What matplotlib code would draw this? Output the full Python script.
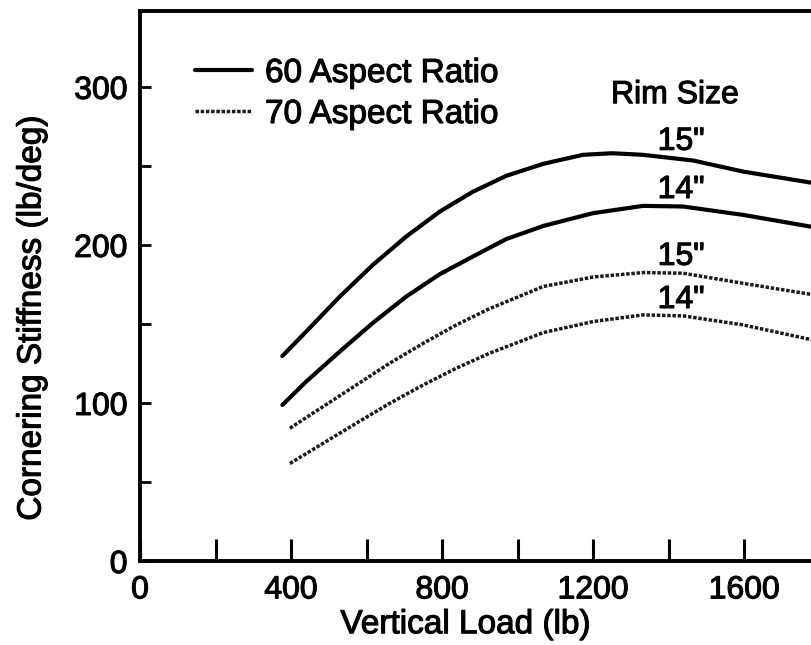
# -*- coding: UTF-8 -*-

# cornering stiffness vs vertical load, 60 and 70 aspect ratio tyres
import matplotlib
matplotlib.use('Agg')
from matplotlib import pyplot as plt
from matplotlib.ticker import MultipleLocator
import matplotlib.patheffects as pe

plt.rcParams['font.family'] = ['Liberation Sans', 'DejaVu Sans']

# data (lb, lb/deg)
load_60_15 = [377, 440, 529, 617, 705, 794, 882, 970, 1068, 1173, 1250, 1332, 1465, 1597, 1785]
cs_60_15 = [130, 145.4, 167.6, 187.7, 205.6, 221.4, 234, 244, 251.6, 257.3, 258.3, 257.3, 253.7, 246.7, 239.4]

load_60_14 = [377, 440, 529, 617, 705, 794, 882, 970, 1068, 1200, 1332, 1438, 1597, 1785]
cs_60_14 = [99, 113.8, 132.8, 151, 167.6, 181.8, 193, 204, 212.3, 220.4, 225, 224.6, 219.3, 211.5]

load_70 = [397, 485, 573, 661, 750, 838, 926, 1068, 1200, 1332, 1438, 1597, 1785]
cs_70_15 = [84.3, 98, 111.7, 125.4, 138, 149.7, 160, 174, 180, 182.8, 182.4, 176, 168.7]
cs_70_14 = [62, 74.8, 87.5, 100, 111.7, 122.3, 131.8, 144.8, 151.8, 156, 155.4, 149.7, 140]

legend_labels = ['60 Aspect Ratio', '70 Aspect Ratio']
rim_labels = ['15"', '14"', '15"', '14"']
rim_label_x = 1433
rim_label_y = [260.5, 230, 187.7, 160.4]

# a thin stroke makes the text look like the heavy scanned print
ink = [pe.withStroke(linewidth=0.8, foreground='black')]

fig = plt.figure(figsize=(8.11, 6.45), dpi=100)
ax = fig.add_axes([0.1726, 0.1295, 0.8274, 0.8527])

dots = (0, (1.0, 0.5))
solid, = ax.plot(load_60_15, cs_60_15, color='black', lw=3.0, solid_capstyle='round')
ax.plot(load_60_14, cs_60_14, color='black', lw=3.0, solid_capstyle='round')
dotted, = ax.plot(load_70, cs_70_15, color='#1a1a1a', lw=2.5, linestyle=dots)
ax.plot(load_70, cs_70_14, color='#1a1a1a', lw=2.5, linestyle=dots)

ax.set_xlim(0, 1777)
ax.set_ylim(0, 348)

# axes frame, right side is cut off in the picture
ax.spines['right'].set_visible(False)
for s in ['left', 'top', 'bottom']:
    ax.spines[s].set_linewidth(2.8)

ax.xaxis.set_major_locator(MultipleLocator(400))
ax.xaxis.set_minor_locator(MultipleLocator(200))
ax.yaxis.set_major_locator(MultipleLocator(100))
ax.yaxis.set_minor_locator(MultipleLocator(50))
ax.tick_params(axis='x', which='both', direction='in', length=16, width=2.2,
               labelsize=23, pad=10, top=False)
ax.tick_params(axis='y', which='both', direction='in', length=8, width=2.0,
               labelsize=23, pad=9, right=False)
for t in ax.get_xticklabels() + ax.get_yticklabels():
    t.set_path_effects(ink)

ax.set_xlabel('Vertical Load (lb)', fontsize=24, path_effects=ink)
ax.xaxis.set_label_coords(0.485, -0.115)
ax.xaxis.label.set_va('center')
ax.set_ylabel('Cornering Stiffness (lb/deg)', fontsize=24, path_effects=ink)
ax.yaxis.set_label_coords(-0.161, 0.443)
ax.yaxis.label.set_va('center')

# legend top left
leg = ax.legend([solid, dotted], legend_labels, loc='upper left',
                bbox_to_anchor=(195 / 811, 1 - 58 / 645), bbox_transform=fig.transFigure,
                frameon=False, fontsize=24, handlelength=1.72, handletextpad=0.38,
                labelspacing=0.3, borderpad=0, borderaxespad=0)
for t in leg.get_texts():
    t.set_path_effects(ink)

# rim size labels
ax.text(1417, 290, 'Rim Size', fontsize=23, ha='center', va='baseline', path_effects=ink)
for lab, y in zip(rim_labels, rim_label_y):
    ax.text(rim_label_x, y, lab, fontsize=23, ha='center', va='baseline', path_effects=ink)

fig.savefig('out.png', dpi=100)
